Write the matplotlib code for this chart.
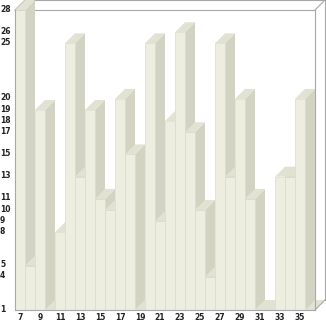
import matplotlib
matplotlib.use("Agg")
import matplotlib.pyplot as plt
from matplotlib.patches import Polygon
from matplotlib.transforms import ScaledTranslation

# data: one bar per day
days = list(range(7, 36))
counts = [28, 5, 19, 1, 8, 25, 13, 19, 11, 10,
          20, 15, 1, 25, 9, 18, 26, 17, 10, 4,
          25, 13, 20, 11, 1, 1, 13, 13, 20]
x_ticks = [d for d in days if d % 2 == 1]
y_ticks = sorted(set(counts))

# look
front_col = "#eeeee0"
side_col = "#d3d3c4"
top_col = "#e2e2d3"
frame_col = "#a8a8a8"
floor = 1
depth_x = 1.0
depth_y = 0.9

fig = plt.figure(figsize=(3.26, 3.21), dpi=100)
ax = fig.add_axes([15 / 326, 11 / 321, 300 / 326, 300 / 321])
ax.set_xlim(6.5, 36.5)
ax.set_ylim(floor, 28)

# floor of the box
ax.add_patch(Polygon([(6.5, floor), (36.5, floor), (36.5 + depth_x, floor + depth_y),
                      (6.5 + depth_x, floor + depth_y)],
                     closed=True, facecolor=top_col, edgecolor="none",
                     zorder=1, clip_on=False))

# back frame lines
x0, x1 = ax.get_xlim()
y0, y1 = ax.get_ylim()
lw = 0.8
ax.plot([x0 + depth_x, x1 + depth_x], [y1 + depth_y, y1 + depth_y], color=frame_col,
        lw=lw, clip_on=False, zorder=1.5)
ax.plot([x1 + depth_x, x1 + depth_x], [y0 + depth_y, y1 + depth_y], color=frame_col,
        lw=lw, clip_on=False, zorder=1.5)
ax.plot([x0, x0 + depth_x], [y1, y1 + depth_y], color=frame_col,
        lw=lw, clip_on=False, zorder=1.5)
ax.plot([x1, x1 + depth_x], [y1, y1 + depth_y], color=frame_col,
        lw=lw, clip_on=False, zorder=1.5)
ax.plot([x1, x1 + depth_x], [y0, y0 + depth_y], color=frame_col,
        lw=lw, clip_on=False, zorder=1.5)

# bars, left to right so each front face covers the neighbour's side
bars = ax.bar(days, [c - floor for c in counts], bottom=floor, width=1.0,
              color=front_col, edgecolor="#dcdccd", linewidth=0.5)
for i, (d, c) in enumerate(zip(days, counts)):
    z = 3 + i * 0.01
    bars[i].set_zorder(z + 0.005)
    side = Polygon([(d + 0.5, floor), (d + 0.5, c), (d + 0.5 + depth_x, c + depth_y),
                    (d + 0.5 + depth_x, floor + depth_y)],
                   closed=True, facecolor=side_col, edgecolor="none",
                   zorder=z, clip_on=False)
    top = Polygon([(d - 0.5, c), (d + 0.5, c), (d + 0.5 + depth_x, c + depth_y),
                   (d - 0.5 + depth_x, c + depth_y)],
                  closed=True, facecolor=top_col, edgecolor="none",
                  zorder=z, clip_on=False)
    ax.add_patch(side)
    ax.add_patch(top)

# axes and ticks
for name, sp in ax.spines.items():
    sp.set_color(frame_col)
    sp.set_linewidth(lw)
ax.spines["left"].set_zorder(10)
ax.spines["bottom"].set_zorder(10)

ax.set_xticks(x_ticks)
ax.set_xticklabels([str(t) for t in x_ticks])
ax.set_yticks(y_ticks)
ax.set_yticklabels([str(t) for t in y_ticks])
ax.tick_params(axis="both", length=0, labelsize=5.5, labelcolor="#222222")
ax.tick_params(axis="x", pad=2.5)
ax.tick_params(axis="y", pad=10.8)
shift = ScaledTranslation(0, 2 / 100, fig.dpi_scale_trans)
for lab in ax.get_yticklabels():
    lab.set_horizontalalignment("left")
    lab.set_fontweight("bold")
    lab.set_transform(lab.get_transform() + shift)
for lab in ax.get_xticklabels():
    lab.set_fontweight("bold")

fig.savefig("out.png", dpi=100)
